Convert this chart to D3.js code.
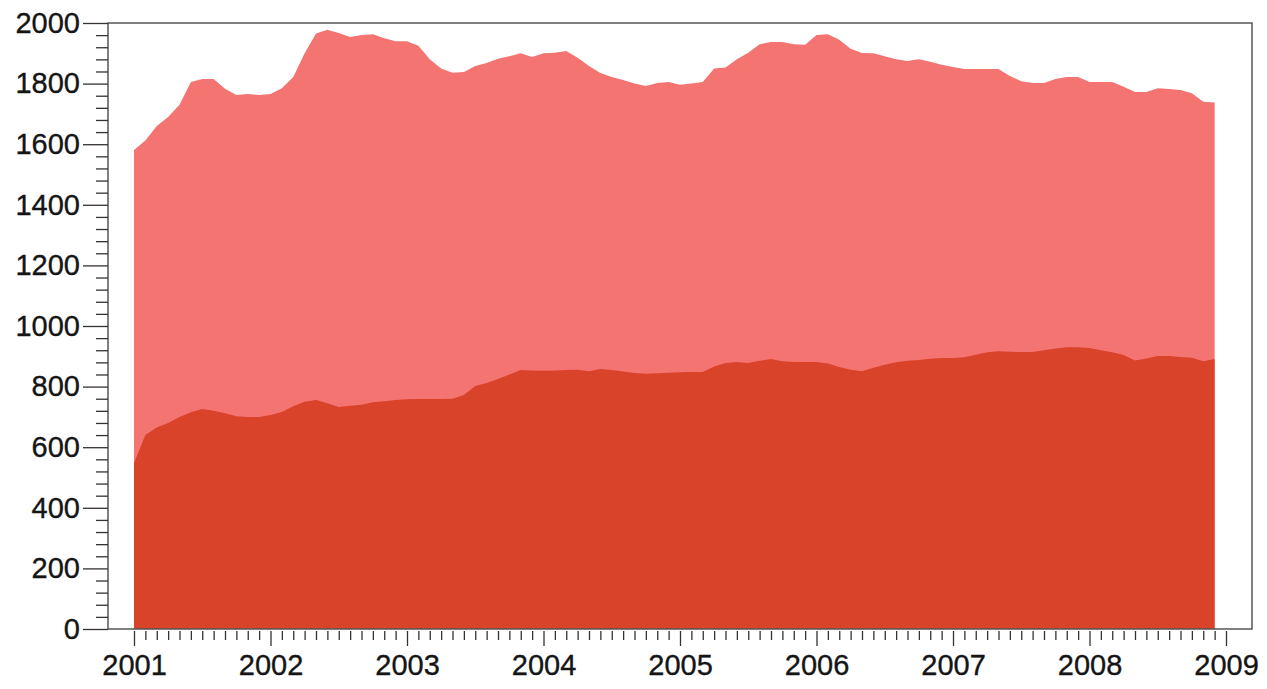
<!DOCTYPE html>
<html>
<head>
<meta charset="utf-8">
<script src="https://cdn.jsdelivr.net/npm/d3@7"></script>
<style>
  body { margin: 0; background: #fff; }
  svg { display: block; }
  .tick text { font-family: "Liberation Sans", Arial, sans-serif; font-size: 29px; fill: #151515; stroke: #151515; stroke-width: 0.35; }
</style>
</head>
<body>
<div id="chart"></div>
<script>
// monthly values, Jan 2001 .. Dec 2008
const startYear = 2001
const total = [1581,1612,1660,1690,1730,1805,1815,1815,1783,1762,1766,1762,
  1766,1785,1822,1900,1965,1978,1967,1954,1960,1963,1950,1940,
  1940,1925,1880,1850,1836,1838,1858,1868,1882,1890,1900,1888,
  1900,1902,1908,1885,1858,1835,1822,1812,1800,1792,1802,1805,
  1796,1800,1805,1850,1853,1880,1902,1930,1937,1937,1930,1928,
  1960,1963,1945,1915,1901,1900,1890,1880,1875,1880,1872,1862,
  1855,1848,1848,1848,1848,1825,1808,1802,1802,1815,1822,1822,
  1805,1805,1805,1790,1772,1772,1785,1782,1779,1768,1740,1738]
const lower = [548,640,665,680,700,715,726,720,712,702,700,700,
  706,716,735,750,756,745,733,737,740,748,752,756,
  758,759,759,759,760,772,802,812,825,840,855,853,
  852,853,855,856,851,858,855,850,845,842,844,846,
  847,848,848,866,878,881,878,885,891,884,881,881,
  881,876,865,856,851,862,872,880,885,888,892,894,
  894,897,905,913,917,915,914,914,920,926,930,930,
  927,920,913,904,886,893,901,901,898,895,884,891]
const yearTicks = [2001,2002,2003,2004,2005,2006,2007,2008,2009]
const yTicks = [0,200,400,600,800,1000,1200,1400,1600,1800,2000]

const width = 1267, height = 689
const box = { left: 108, right: 1252, top: 23, bottom: 629 }

let svg = d3.select('#chart').append('svg')
    .attr('width', width)
    .attr('height', height)

let x = d3.scaleLinear().domain([2001, 2009]).range([134, 1226])
let y = d3.scaleLinear().domain([0, 2000]).range([629, 23])

let t = i => startYear + i / 12

let area = d3.area()
    .x((d, i) => x(t(i)))
    .y0(y(0))
    .y1(d => y(d))

svg.append('path').datum(total)
    .attr('fill', '#f47472')
    .attr('d', area)

svg.append('path').datum(lower)
    .attr('fill', '#d9432a')
    .attr('d', area)

// frame
svg.append('rect')
    .attr('x', box.left).attr('y', box.top)
    .attr('width', box.right - box.left)
    .attr('height', box.bottom - box.top)
    .attr('fill', 'none')
    .attr('stroke', '#555')
    .attr('stroke-width', 1.5)

// y axis: minor ticks every 40
let yMinor = d3.range(0, 2001, 40).filter(v => v % 200 != 0)
svg.append('g')
    .attr('transform', `translate(${box.left},0)`)
    .call(d3.axisLeft(y).tickValues(yMinor).tickSize(12).tickFormat(''))
    .call(g => g.select('.domain').remove())
    .call(g => g.selectAll('line').attr('stroke', '#333').attr('stroke-width', 1.3))

svg.append('g')
    .attr('transform', `translate(${box.left},0)`)
    .call(d3.axisLeft(y).tickValues(yTicks).tickSize(25).tickPadding(3).tickFormat(d3.format('d')))
    .call(g => g.select('.domain').remove())
    .call(g => g.selectAll('line').attr('stroke', '#333').attr('stroke-width', 1.3))

// x axis: monthly minor ticks
let xMinor = d3.range(0, 97).map(t).filter((v, i) => i % 12 != 0)
svg.append('g')
    .attr('transform', `translate(0,${box.bottom + 2})`)
    .call(d3.axisBottom(x).tickValues(xMinor).tickSize(9).tickFormat(''))
    .call(g => g.select('.domain').remove())
    .call(g => g.selectAll('line').attr('stroke', '#333').attr('stroke-width', 1.3))

svg.append('g')
    .attr('transform', `translate(0,${box.bottom + 2})`)
    .call(d3.axisBottom(x).tickValues(yearTicks).tickSize(15).tickPadding(8).tickFormat(d3.format('d')))
    .call(g => g.select('.domain').remove())
    .call(g => g.selectAll('line').attr('stroke', '#333').attr('stroke-width', 1.3))
</script>
</body>
</html>
